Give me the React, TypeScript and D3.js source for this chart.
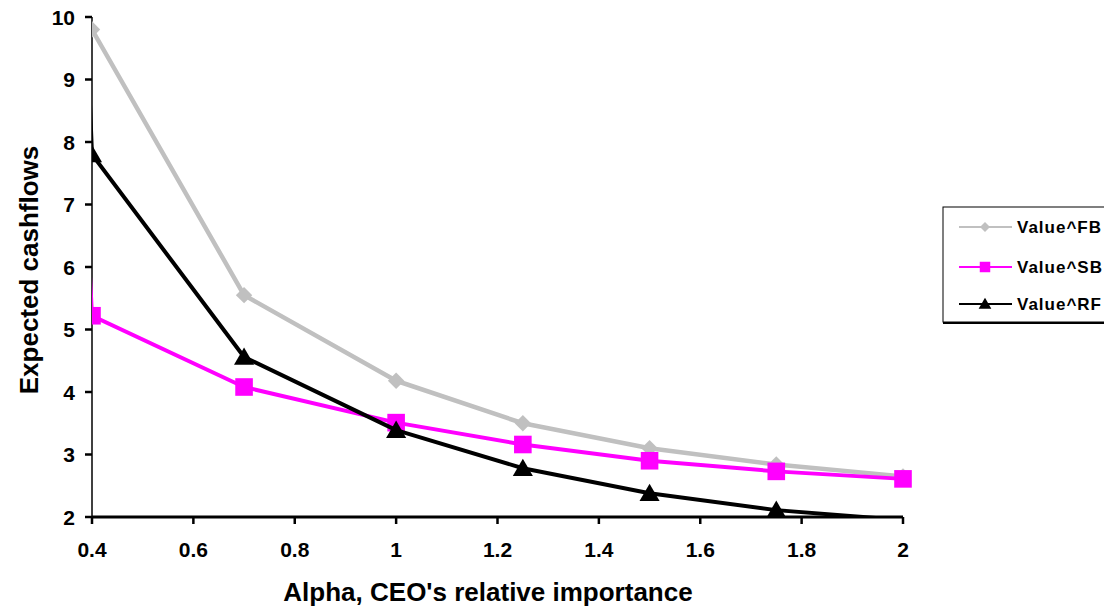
import { useEffect, useRef } from "react"
import * as d3 from "d3"

// alpha values (first point lies left of the axis and is clipped, as in the source)
const alphas = [0.3, 0.4, 0.7, 1, 1.25, 1.5, 1.75, 2]
const valueFB = [13.0, 9.8, 5.55, 4.18, 3.5, 3.1, 2.84, 2.65]
const valueSB = [21.0, 5.22, 4.08, 3.51, 3.16, 2.9, 2.73, 2.61]
const valueRF = [28.0, 7.8, 4.56, 3.39, 2.78, 2.38, 2.11, 1.95]

const xTicks = [0.4, 0.6, 0.8, 1, 1.2, 1.4, 1.6, 1.8, 2]
const yTicks = [2, 3, 4, 5, 6, 7, 8, 9, 10]

const seriesNames = ["Value^FB", "Value^SB", "Value^RF"]

export default function App() {
  const svgRef = useRef<SVGSVGElement>(null)

  useEffect(() => {
    if (!svgRef.current) return
    const svg = d3.select(svgRef.current)
    svg.selectAll("*").remove()

    const W = 1104
    const H = 610
    const plot = { left: 92, right: 903, top: 17, bottom: 517 }
    const font = "'Liberation Sans', Arial, sans-serif"

    const x = d3.scaleLinear().domain([0.4, 2]).range([plot.left, plot.right])
    const y = d3.scaleLinear().domain([2, 10]).range([plot.bottom, plot.top])

    svg.append("rect").attr("width", W).attr("height", H).attr("fill", "#fff")

    svg
      .append("clipPath")
      .attr("id", "plotclip")
      .append("rect")
      .attr("x", plot.left)
      .attr("y", plot.top - 20)
      .attr("width", plot.right - plot.left + 20)
      .attr("height", plot.bottom - plot.top + 20)

    const series = [
      { name: seriesNames[0], values: valueFB, color: "#c0c0c0", marker: "diamond", width: 4.5 },
      { name: seriesNames[1], values: valueSB, color: "#ff00ff", marker: "square", width: 4 },
      { name: seriesNames[2], values: valueRF, color: "#000000", marker: "triangle", width: 4 },
    ]

    // diamond drawn as a square turned 45 degrees, like the spreadsheet marker
    const symbolOf = (m: string) => (m === "triangle" ? d3.symbolTriangle : d3.symbolSquare)
    const rotOf = (m: string) => (m === "diamond" ? 45 : 0)
    const sizeOf = (m: string) => (m === "diamond" ? 135 : m === "square" ? 310 : 175)

    // y axis
    const yAxis = svg.append("g").attr("transform", `translate(${plot.left},0)`)
    yAxis
      .append("line")
      .attr("x1", 0)
      .attr("x2", 0)
      .attr("y1", plot.top)
      .attr("y2", plot.bottom)
      .attr("stroke", "#000")
      .attr("stroke-width", 1.5)
    yTicks.forEach((t) => {
      yAxis
        .append("line")
        .attr("x1", -7)
        .attr("x2", 0)
        .attr("y1", y(t))
        .attr("y2", y(t))
        .attr("stroke", "#000")
        .attr("stroke-width", 2.5)
      yAxis
        .append("text")
        .attr("x", -17)
        .attr("y", y(t))
        .attr("dy", "0.36em")
        .attr("text-anchor", "end")
        .style("font-family", font)
        .style("font-weight", "bold")
        .style("font-size", "21px")
        .text(t)
    })

    // x axis
    const xAxis = svg.append("g").attr("transform", `translate(0,${plot.bottom})`)
    xAxis
      .append("line")
      .attr("x1", plot.left)
      .attr("x2", plot.right)
      .attr("y1", 0)
      .attr("y2", 0)
      .attr("stroke", "#000")
      .attr("stroke-width", 3)
    xTicks.forEach((t) => {
      xAxis
        .append("line")
        .attr("x1", x(t))
        .attr("x2", x(t))
        .attr("y1", 0)
        .attr("y2", 7)
        .attr("stroke", "#000")
        .attr("stroke-width", 2.5)
      xAxis
        .append("text")
        .attr("x", x(t))
        .attr("y", 40)
        .attr("text-anchor", "middle")
        .style("font-family", font)
        .style("font-weight", "bold")
        .style("font-size", "21px")
        .text(t)
    })

    // series
    const pts = alphas.map((a, i) => ({ a, i }))
    const plotG = svg.append("g").attr("clip-path", "url(#plotclip)")
    series.forEach((s) => {
      const line = d3
        .line<{ a: number; i: number }>()
        .x((d) => x(d.a))
        .y((d) => y(s.values[d.i]))
      plotG
        .append("path")
        .datum(pts)
        .attr("fill", "none")
        .attr("stroke", s.color)
        .attr("stroke-width", s.width)
        .attr("stroke-linejoin", "round")
        .attr("d", line)
      plotG
        .selectAll(null)
        .data(pts.filter((d) => d.a >= 0.4 && s.values[d.i] >= 2))
        .join("path")
        .attr(
          "transform",
          (d) =>
            `translate(${x(d.a)},${y(s.values[d.i]) + (s.marker === "triangle" ? 2 : 0)}) rotate(${rotOf(s.marker)})`,
        )
        .attr("d", d3.symbol(symbolOf(s.marker), sizeOf(s.marker))())
        .attr("fill", s.color)
    })

    // axis titles
    svg
      .append("text")
      .attr("x", 488)
      .attr("y", 601)
      .attr("text-anchor", "middle")
      .style("font-family", font)
      .style("font-weight", "bold")
      .style("font-size", "26px")
      .text("Alpha, CEO's relative importance")

    svg
      .append("text")
      .attr("transform", "translate(38,270) rotate(-90)")
      .attr("text-anchor", "middle")
      .style("font-family", font)
      .style("font-weight", "bold")
      .style("font-size", "26px")
      .text("Expected cashflows")

    // legend
    const legend = svg.append("g").attr("transform", "translate(943,207)")
    legend
      .append("rect")
      .attr("x", 0)
      .attr("y", 0)
      .attr("width", 200)
      .attr("height", 115)
      .attr("fill", "#fff")
      .attr("stroke", "#000")
      .attr("stroke-width", 1)
    legend
      .append("line")
      .attr("x1", 0)
      .attr("x2", 200)
      .attr("y1", 116)
      .attr("y2", 116)
      .attr("stroke", "#000")
      .attr("stroke-width", 2)
    const rowY = [20, 60, 97]
    const legendSizes = [50, 110, 70]
    series.forEach((s, i) => {
      const row = legend.append("g").attr("transform", `translate(0,${rowY[i]})`)
      row
        .append("line")
        .attr("x1", 16)
        .attr("x2", 69)
        .attr("y1", 0)
        .attr("y2", 0)
        .attr("stroke", s.color)
        .attr("stroke-width", 2)
      row
        .append("path")
        .attr("transform", `translate(42,${s.marker === "triangle" ? 1 : 0}) rotate(${rotOf(s.marker)})`)
        .attr("d", d3.symbol(symbolOf(s.marker), legendSizes[i])())
        .attr("fill", s.color)
      row
        .append("text")
        .attr("x", 74)
        .attr("y", 0)
        .attr("dy", "0.36em")
        .style("font-family", font)
        .style("font-weight", "bold")
        .style("font-size", "17px")
        .style("letter-spacing", "1px")
        .text(s.name)
    })
  }, [])

  return (
    <div style={{ position: "fixed", left: 0, top: 0 }}>
      <svg ref={svgRef} width={1104} height={610} style={{ display: "block" }} />
    </div>
  )
}
